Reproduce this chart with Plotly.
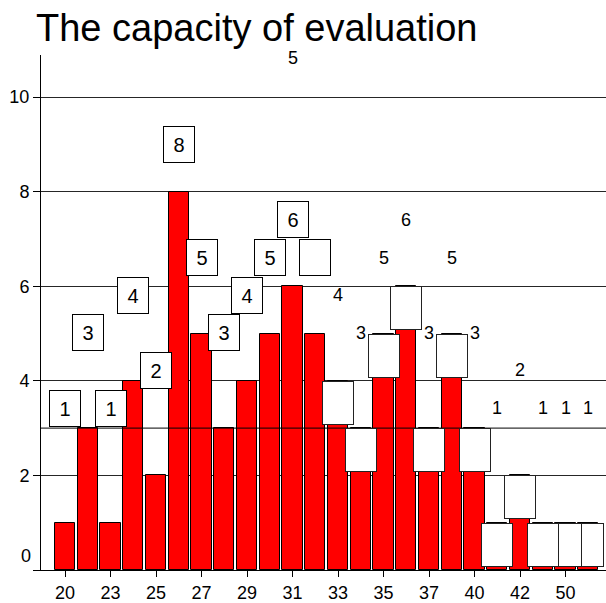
import plotly.graph_objects as go

# Ages and how many times each one was counted
categories = ["20", "22", "23", "24", "25", "26", "27", "28", "29", "30", "31", "32",
              "33", "34", "35", "36", "37", "38", "40", "41", "42", "45", "50", "55"]
values = [1, 3, 1, 4, 2, 8, 5, 3, 4, 5, 6, 5,
          4, 3, 5, 6, 3, 5, 3, 1, 2, 1, 1, 1]

# Only every other age is written under the axis
tick_labels = categories[::2]

# How each value label is drawn
boxed_labels = list(range(0, 11))      # value written inside a framed box
empty_box_label = 11                   # framed box whose text sits near the top
plain_labels = list(range(12, 24))     # bare value, empty frame on the bar top

FONT = "Liberation Sans, Arial, sans-serif"
RED = "#ff0000"


def label_y(v):
    # value labels float on a compressed scale above the baseline
    return 2.63 + 0.795 * v


fig = go.Figure()
fig.add_trace(go.Bar(
    x=categories, y=values,
    width=0.9,
    marker=dict(color=RED, line=dict(color="black", width=1)),
    hoverinfo="x+y",
))

# on a category axis, annotations are placed by category index
ann = []
for i in boxed_labels:
    ann.append(dict(
        x=i, y=label_y(values[i]), xref="x", yref="y",
        text=str(values[i]), showarrow=False,
        font=dict(family=FONT, size=20, color="black"),
        bgcolor="white", bordercolor="black", borderwidth=1, borderpad=0,
        width=30, height=35, xanchor="center", yanchor="middle",
    ))

ann.append(dict(
    x=empty_box_label, y=label_y(values[empty_box_label]),
    xref="x", yref="y", text=" ", showarrow=False,
    font=dict(family=FONT, size=20, color="black"),
    bgcolor="white", bordercolor="black", borderwidth=1, borderpad=0,
    width=30, height=35, xanchor="center", yanchor="middle",
))
ann.append(dict(
    x=empty_box_label - 1, y=10.82, xref="x", yref="y",
    text=str(values[empty_box_label]), showarrow=False,
    font=dict(family=FONT, size=18, color="black"),
    xanchor="center", yanchor="middle",
))

# empty frames resting on the bar tops (later ones underneath)
for i in reversed(plain_labels):
    ann.append(dict(
        x=i, y=values[i], xref="x", yref="y",
        text=" ", showarrow=False,
        bgcolor="white", bordercolor="#222", borderwidth=1, borderpad=0,
        width=30, height=42, xanchor="center", yanchor="top",
    ))

for i in plain_labels:
    ann.append(dict(
        x=i, y=label_y(values[i]), xref="x", yref="y",
        text=str(values[i]), showarrow=False,
        font=dict(family=FONT, size=18, color="black"),
        xanchor="center", yanchor="middle",
    ))

# zero label sits a little above the axis
ann.append(dict(
    x=0, xref="paper", y=0, yref="y", text="0", showarrow=False,
    font=dict(family=FONT, size=18, color="black"),
    xanchor="right", yanchor="middle", xshift=-8, yshift=14,
))

# chart title
ann.append(dict(
    x=0, xref="paper", y=1, yref="paper", text="The capacity of evaluation",
    showarrow=False, font=dict(family=FONT, size=38, color="black"),
    xanchor="left", yanchor="bottom", yshift=4, xshift=-7,
))

fig.update_layout(
    width=606, height=603,
    margin=dict(l=41, r=0, t=55, b=33, autoexpand=False),
    paper_bgcolor="white", plot_bgcolor="white",
    showlegend=False,
    bargap=0,
    annotations=ann,
    shapes=[dict(
        type="line", xref="paper", x0=0, x1=1, yref="y", y0=3, y1=3,
        line=dict(color="black", width=1), layer="above",
    )],
    font=dict(family=FONT, color="black"),
)

fig.update_xaxes(
    type="category",
    range=[-1.055, 23.78],
    tickmode="array", tickvals=tick_labels, ticktext=tick_labels,
    ticks="outside", ticklen=6, tickcolor="black", tickwidth=1,
    ticklabelstandoff=0,
    showline=True, linecolor="black", linewidth=1,
    showgrid=False, zeroline=False, automargin=False,
    tickfont=dict(family=FONT, size=18, color="black"),
)
fig.update_yaxes(
    range=[0, 10.888],
    tickmode="array", tickvals=[0, 2, 4, 6, 8, 10],
    ticktext=["", "2", "4", "6", "8", "10"],
    ticks="outside", ticklen=7, tickcolor="black", tickwidth=1,
    showline=True, linecolor="black", linewidth=1,
    showgrid=True, gridcolor="#262626", gridwidth=1,
    zeroline=False, automargin=False,
    tickfont=dict(family=FONT, size=18, color="black"),
)

fig.write_html("out.html")
